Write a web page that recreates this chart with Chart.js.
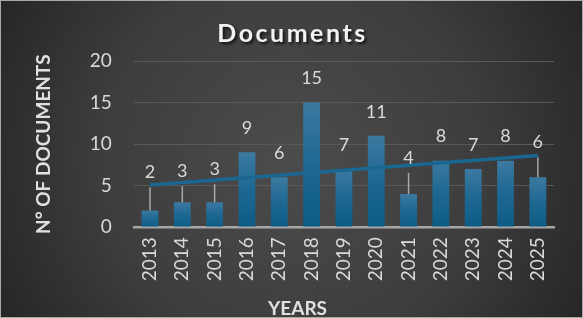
<!DOCTYPE html>
<html>
<head>
<meta charset="utf-8">
<script src="https://cdn.jsdelivr.net/npm/chart.js@4"></script>
<style>
  html, body { margin: 0; padding: 0; background: #2a2a2a; }
  #wrap { width: 583px; height: 318px; position: relative; }
</style>
</head>
<body>
<div id="wrap"><canvas id="c" width="583" height="318"></canvas></div>
<script>
// ---- data ----
const years = ['2013','2014','2015','2016','2017','2018','2019','2020','2021','2022','2023','2024','2025'];
const documents = [2, 3, 3, 9, 6, 15, 7, 11, 4, 8, 7, 8, 6];
// linear trendline endpoints
const trendYears = ['2013', '2025'];
const trendValues = [5.07, 8.63];
const yTicks = [0, 5, 10, 15, 20];
const chartTitle = 'Documents';
const yTitle = 'N° OF DOCUMENTS';
const xTitle = 'YEARS';

const FONT = 'Lato, "Open Sans", "DejaVu Sans", sans-serif';
const TXT = '#d9d9d9';

// extra upward shift of individual data labels (px) – labels moved off the trendline, with leader lines
const labelLift = [14, 7, 9, 0, 0, 0, 0, 0, 12, 0, 0, 0, 11];

const bgPlugin = {
  id: 'bg',
  beforeDraw(chart) {
    const ctx = chart.ctx, w = chart.width, h = chart.height;
    ctx.save();
    const g = ctx.createRadialGradient(w * 0.5, h * 0.5, 10, w * 0.5, h * 0.5, w * 0.58);
    g.addColorStop(0, '#4b4b4b');
    g.addColorStop(0.55, '#3d3d3d');
    g.addColorStop(1, '#252525');
    ctx.fillStyle = g;
    ctx.fillRect(0, 0, w, h);
    ctx.strokeStyle = '#a8a8a8';
    ctx.lineWidth = 1;
    ctx.strokeRect(0.5, 0.5, w - 1, h - 1);
    // chart title
    ctx.font = 'bold 25px ' + FONT;
    try { ctx.letterSpacing = '2.5px'; } catch (e) {}
    ctx.textAlign = 'center';
    ctx.textBaseline = 'alphabetic';
    ctx.shadowColor = 'rgba(0,0,0,0.75)';
    ctx.shadowOffsetX = 2; ctx.shadowOffsetY = 2; ctx.shadowBlur = 3;
    ctx.fillStyle = '#f2f2f2';
    ctx.fillText(chartTitle, w / 2 + 1, 42);
    ctx.restore();
  },
  afterDraw(chart) {
    // x axis title centred on the whole chart like the reference
    const ctx = chart.ctx;
    ctx.save();
    ctx.font = 'bold 19px ' + FONT;
    ctx.fillStyle = '#e0e0e0';
    ctx.textAlign = 'center';
    ctx.textBaseline = 'alphabetic';
    ctx.fillText(xTitle, chart.width / 2 + 6, 315);
    ctx.restore();
  }
};

const labelPlugin = {
  id: 'barLabels',
  afterDatasetDraw(chart, args) {
    if (args.index !== 0) return;
    const ctx = chart.ctx;
    const meta = chart.getDatasetMeta(0);
    ctx.save();
    ctx.strokeStyle = '#a9a9a9';
    ctx.lineWidth = 1.5;
    meta.data.forEach((bar, i) => {
      if (labelLift[i] > 0) {
        const cy = bar.y - 24 - labelLift[i];
        ctx.beginPath();
        ctx.moveTo(bar.x, cy + 15);
        ctx.lineTo(bar.x, bar.y);
        ctx.stroke();
      }
    });
    ctx.restore();
  },
  afterDatasetsDraw(chart) {
    const ctx = chart.ctx;
    const meta = chart.getDatasetMeta(0);
    ctx.save();
    ctx.font = '18px ' + FONT;
    ctx.fillStyle = TXT;
    ctx.textAlign = 'center';
    ctx.textBaseline = 'middle';
    meta.data.forEach((bar, i) => {
      const cy = bar.y - 24 - labelLift[i];
      ctx.fillText(String(documents[i]), bar.x, cy);
    });
    ctx.restore();
  }
};

function barFill(c) {
  const chart = c.chart;
  const { chartArea, scales } = chart;
  if (!chartArea || !scales.y || c.raw == null) return '#1b6890';
  const top = scales.y.getPixelForValue(c.raw);
  const bot = scales.y.getPixelForValue(0);
  if (!isFinite(top) || !isFinite(bot) || top === bot) return '#1b6890';
  const g = chart.ctx.createLinearGradient(0, top, 0, bot);
  g.addColorStop(0, '#3c79a0');
  g.addColorStop(0.5, '#1d6892');
  g.addColorStop(1, '#0d5c86');
  return g;
}

new Chart(document.getElementById('c'), {
  data: {
    labels: years,
    datasets: [
      {
        type: 'bar',
        data: documents,
        backgroundColor: barFill,
        borderWidth: 0,
        barPercentage: 0.52,
        categoryPercentage: 1,
        order: 1
      },
      {
        type: 'line',
        data: trendYears.map((y, i) => ({ x: y, y: trendValues[i] })),
        borderColor: '#1a6791',
        borderWidth: 3.5,
        pointRadius: 0,
        fill: false,
        tension: 0,
        order: 0
      }
    ]
  },
  options: {
    responsive: false,
    animation: false,
    devicePixelRatio: 1,
    layout: { padding: { top: 61, right: 29, bottom: 0, left: 20 } },
    plugins: { legend: { display: false }, tooltip: { enabled: false }, title: { display: false } },
    scales: {
      x: {
        type: 'category',
        grid: { display: false, drawTicks: false },
        border: { display: true, color: '#a6a6a6', width: 2.5 },
        ticks: { color: TXT, font: { family: FONT, size: 19 }, minRotation: 90, maxRotation: 90, padding: 10 },
        title: { display: true, text: xTitle, color: 'rgba(0,0,0,0)', font: { family: FONT, size: 19, weight: 'bold' }, padding: { top: 4, bottom: 0 } }
      },
      y: {
        min: 0, max: 20,
        afterBuildTicks(scale) { scale.ticks = yTicks.map(v => ({ value: v })); },
        grid: { color: '#595959', lineWidth: 1, drawTicks: false },
        border: { display: false },
        ticks: { color: TXT, font: { family: FONT, size: 19 }, padding: 22 },
        title: { display: true, text: yTitle, color: '#e0e0e0', font: { family: FONT, size: 19, weight: 'bold' }, padding: { top: 12, bottom: 13 } }
      }
    }
  },
  plugins: [bgPlugin, labelPlugin]
});
</script>
</body>
</html>
